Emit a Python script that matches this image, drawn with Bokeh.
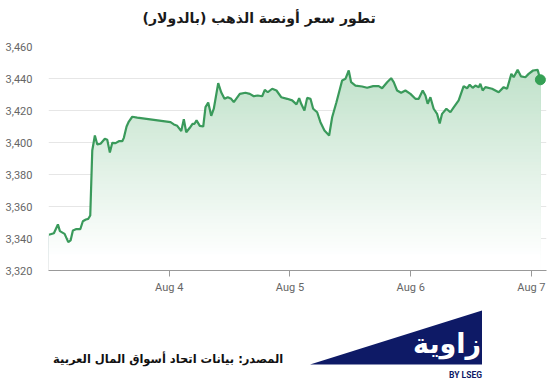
import numpy as np
from bokeh.plotting import figure
from bokeh.layouts import column
from bokeh.models import Range1d, FixedTicker, NumeralTickFormatter, Label
from bokeh.embed import file_html
from bokeh.resources import INLINE

# hours since Aug 3 00:00
hours = [0.08, 1.07, 1.87, 2.27, 3.2, 3.93, 4.39, 4.85, 5.44, 6.32, 6.83, 7.43,
         7.91, 8.3, 8.7, 9.22, 9.7, 10.35, 11.2, 11.68, 12.2, 12.68, 13.33,
         13.99, 14.66, 14.98, 15.52, 15.97, 16.65, 17.64, 24.26, 24.92, 25.59,
         26.39, 26.9, 27.38, 28.09, 28.63, 29.03, 29.43, 30.08, 30.76, 31.21,
         31.75, 32.35, 32.86, 33.74, 34.33, 34.99, 35.64, 36.32, 36.84, 38.03,
         39.16, 40.02, 40.81, 41.6, 42.48, 43.0, 43.59, 44.47, 45.32, 46.26,
         47.45, 48.44, 49.3, 49.83, 50.23, 50.88, 51.42, 52.08, 52.61, 53.41,
         54.06, 54.86, 55.79, 56.39, 57.24, 58.37, 59.03, 59.69, 60.16, 61.02,
         62.35, 63.34, 64.54, 65.65, 66.32, 67.32, 68.11, 68.63, 69.3, 70.1,
         70.95, 71.95, 72.94, 73.6, 74.39, 74.93, 75.38, 75.92, 76.57, 77.25,
         77.77, 78.24, 79.1, 79.89, 80.55, 81.54, 82.53, 83.21, 83.73, 84.32,
         84.86, 85.52, 85.85, 86.31, 86.85, 88.18, 89.49, 90.49, 91.16, 92.01,
         92.47, 93.26, 93.94, 94.8, 95.45, 96.33, 97.24, 97.78]
prices = [3342.3, 3343.3, 3348.8, 3344.6, 3342.9, 3337.7, 3338.8, 3345.0,
          3345.8, 3345.8, 3350.8, 3351.9, 3352.3, 3354.4, 3395.0, 3404.4,
          3398.8, 3399.2, 3402.3, 3401.7, 3393.8, 3399.8, 3399.6, 3400.8,
          3400.8, 3402.9, 3410.0, 3413.1, 3416.1, 3415.6, 3412.7, 3411.3,
          3410.4, 3407.1, 3414.6, 3406.4, 3409.2, 3411.7, 3411.7, 3413.8,
          3410.4, 3410.0, 3422.1, 3425.0, 3416.7, 3421.1, 3437.1, 3431.4,
          3427.3, 3428.3, 3427.3, 3425.2, 3430.4, 3431.1, 3430.4, 3428.9,
          3429.4, 3428.9, 3432.9, 3431.4, 3433.6, 3432.5, 3428.3, 3427.3,
          3426.3, 3423.8, 3427.7, 3424.2, 3420.0, 3427.9, 3427.3, 3421.1,
          3418.9, 3412.7, 3407.5, 3404.4, 3415.8, 3425.2, 3438.8, 3439.8,
          3445.0, 3437.7, 3435.6, 3435.0, 3434.2, 3435.2, 3435.2, 3433.9,
          3437.7, 3440.2, 3437.7, 3432.5, 3431.1, 3432.5, 3430.4, 3427.3,
          3427.3, 3432.5, 3429.4, 3424.2, 3428.3, 3421.1, 3417.9, 3411.9,
          3417.9, 3421.1, 3418.9, 3422.0, 3426.3, 3435.2, 3433.9, 3436.1,
          3434.2, 3435.6, 3434.6, 3436.7, 3432.5, 3434.6, 3433.6, 3431.4,
          3434.6, 3433.6, 3442.9, 3440.8, 3445.4, 3441.3, 3440.8, 3442.9,
          3445.0, 3445.4, 3439.2]
day_ticks = [24, 48, 72, 96]
day_labels = ["Aug 4", "Aug 5", "Aug 6", "Aug 7"]
y_ticks = [3320, 3340, 3360, 3380, 3400, 3420, 3440, 3460]

title_text = "تطور سعر أونصة الذهب (بالدولار)"
source_text = "المصدر: بيانات اتحاد أسواق المال العربية"

LINE = "#3a9a5b"
NAVY = "#0e1a66"
AR_FONT = "DejaVu Sans"
W = 556


def blank(height):
    f = figure(width=W, height=height, output_backend="svg",
               toolbar_location=None, x_range=Range1d(0, W),
               y_range=Range1d(height, 0), min_border=0)
    f.axis.visible = False
    f.grid.grid_line_color = None
    f.outline_line_color = None
    return f


# header with title
head = blank(36)
head.add_layout(Label(x=105, y=17, text=title_text, text_align="left",
                      text_baseline="middle", text_font=AR_FONT,
                      text_font_style="bold", text_font_size="14px",
                      text_color="#1a1a1a"))

# main chart
p = figure(width=W, height=260, output_backend="svg", toolbar_location=None,
           x_range=Range1d(0, 99), y_range=Range1d(3320, 3460),
           min_border_left=48, min_border_right=10, min_border_top=10,
           min_border_bottom=26)
p.outline_line_color = None

x = np.array(hours)
v = np.array(prices)
levels = np.arange(3320, 3452, 2.0)
top_c = np.array([192, 226, 202])
for k in range(len(levels) - 1, -1, -1):
    lvl = levels[k]
    t = np.clip((lvl - 3328) / (3446 - 3328), 0, 1)
    c = (255 + (top_c - 255) * t).astype(int)
    color = "#%02x%02x%02x" % tuple(c)
    p.varea(x=x, y1=np.full_like(v, 3320.0), y2=np.minimum(v, lvl + 2.0),
            fill_color=color, fill_alpha=1.0)

p.line(hours, prices, line_color=LINE, line_width=2.2)
p.scatter([hours[-1]], [prices[-1]], size=10, fill_color="#35a055",
          line_color="#35a055")

p.yaxis.ticker = FixedTicker(ticks=y_ticks)
p.yaxis.formatter = NumeralTickFormatter(format="0,0")
p.yaxis.axis_line_color = None
p.yaxis.major_tick_line_color = None
p.yaxis.minor_tick_line_color = None
p.yaxis.major_label_standoff = 10
p.yaxis.major_label_text_font = "Roboto"
p.yaxis.major_label_text_font_size = "11px"
p.yaxis.major_label_text_color = "#666666"

p.xaxis.ticker = FixedTicker(ticks=day_ticks)
p.xaxis.major_label_overrides = {t: l for t, l in zip(day_ticks, day_labels)}
p.xaxis.axis_line_color = "#999999"
p.xaxis.major_tick_line_color = "#999999"
p.xaxis.major_tick_out = 6
p.xaxis.major_tick_in = 0
p.xaxis.minor_tick_line_color = None
p.xaxis.major_label_standoff = 4
p.xaxis.major_label_text_font = "Roboto"
p.xaxis.major_label_text_font_size = "11px"
p.xaxis.major_label_text_color = "#666666"

p.xgrid.grid_line_color = None
p.ygrid.grid_line_color = "#e6e6e6"
p.ygrid.ticker = FixedTicker(ticks=y_ticks[1:])

# footer with source and logo
foot = blank(82)
foot.add_layout(Label(x=5, y=62, text=source_text, text_align="left",
                      text_baseline="middle", text_font=AR_FONT,
                      text_font_style="bold", text_font_size="11.5px",
                      text_color="#111111"))
foot.patch([292, 484, 484], [68, 14, 68], fill_color=NAVY, line_color=None)
foot.add_layout(Label(x=483, y=47, text="زاوية", text_align="right",
                      text_baseline="middle", text_font=AR_FONT,
                      text_font_style="bold", text_font_size="27px",
                      text_color="white"))
foot.add_layout(Label(x=484, y=78, text="BY LSEG", text_align="right",
                      text_baseline="middle", text_font="Roboto",
                      text_font_style="bold", text_font_size="8.5px",
                      text_color=NAVY))

layout = column(head, p, foot, spacing=0)
open("out.html", "w").write(file_html(layout, INLINE))
